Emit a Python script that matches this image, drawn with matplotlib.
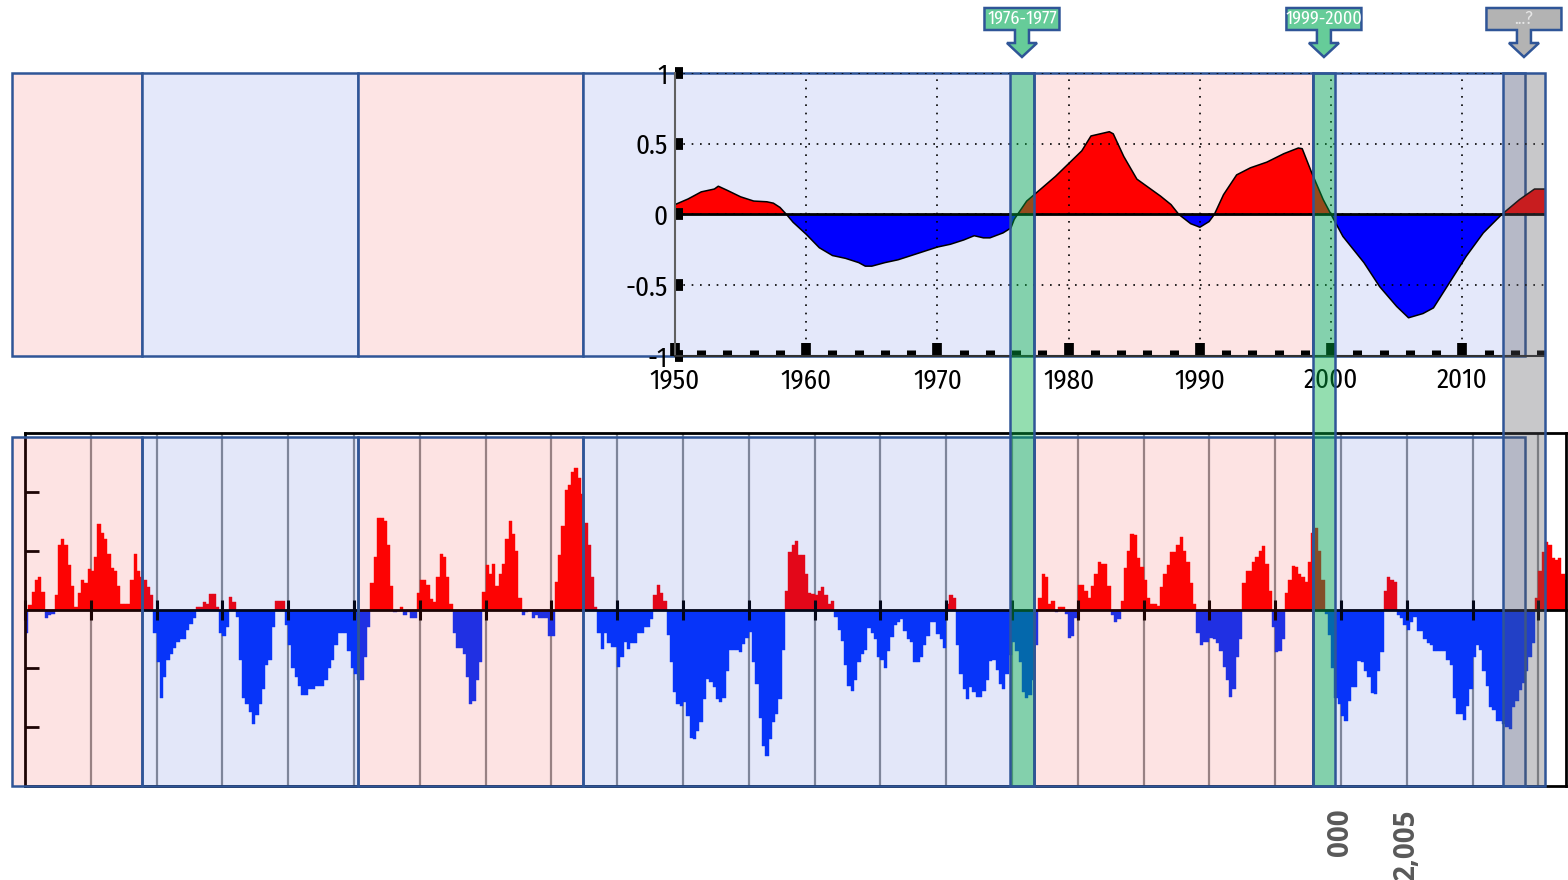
import numpy as np
import matplotlib.pyplot as plt
import matplotlib.transforms as mtransforms
from matplotlib.patches import Rectangle, Polygon

NARROW = ['Fira Sans Condensed', 'Sofia Sans Condensed', 'DejaVu Sans']
plt.rcParams['font.family'] = NARROW

# smoothed index, upper panel
smooth_years = [1950.0, 1951, 1952, 1953, 1953.3, 1954, 1955, 1956, 1957, 1957.5,
                1958, 1958.5, 1959, 1960, 1961, 1962, 1963, 1964, 1964.5, 1965,
                1966, 1967, 1968, 1969, 1970, 1971, 1972, 1972.8, 1973.5, 1974,
                1975, 1975.6, 1975.85, 1976.1, 1976.8, 1978, 1979, 1980, 1981, 1981.7,
                1983.1, 1983.4, 1984.2, 1985.2, 1986.25, 1987.0, 1987.8, 1988.4, 1989.3, 1990,
                1990.7, 1991.1, 1991.8, 1992.8, 1993.85, 1995.1, 1996.4, 1997.5, 1997.8, 1998.5,
                1999.4, 2000.2, 2000.9, 2002.5, 2003.7, 2005.0, 2005.9, 2007.0, 2007.8, 2009.0,
                2010.3, 2011.6, 2013.0, 2014.35, 2015.5, 2016.3]
smooth_values = [0.07, 0.11, 0.16, 0.18, 0.20, 0.17, 0.125, 0.095, 0.09, 0.08,
                 0.05, 0.0, -0.055, -0.14, -0.235, -0.29, -0.31, -0.34, -0.365, -0.365,
                 -0.34, -0.32, -0.29, -0.26, -0.23, -0.21, -0.18, -0.15, -0.165, -0.165,
                 -0.13, -0.095, -0.035, 0.0, 0.095, 0.19, 0.27, 0.36, 0.45, 0.555,
                 0.585, 0.57, 0.41, 0.25, 0.18, 0.13, 0.07, 0.0, -0.065, -0.09,
                 -0.05, 0.0, 0.14, 0.28, 0.33, 0.37, 0.43, 0.47, 0.465, 0.30,
                 0.105, -0.035, -0.155, -0.34, -0.51, -0.65, -0.73, -0.70, -0.66, -0.485,
                 -0.295, -0.13, 0.0, 0.105, 0.18, 0.18]

# quarterly index, lower panel: 4 values per year starting 1900
idx_1900s = [-0.4, 0.08, 0.3, 0.5, 0.55, 0.3, -0.15, -0.1, -0.08, 0.25, 1.1, 1.2,
             1.1, 0.75, 0.4, 0.05, 0.28, 0.5, 0.45, 0.68, 0.65, 0.9, 1.45, 1.3,
             1.2, 0.95, 0.7, 0.65, 0.4, 0.1, 0.1, 0.1, 0.5, 0.95, 0.65, 0.55,
             0.5, 0.38, 0.24, -0.4]
idx_1910s = [-0.9, -1.5, -1.15, -0.85, -0.75, -0.65, -0.55, -0.5, -0.5, -0.35, -0.25, -0.15,
             0.05, 0.05, 0.12, 0.1, 0.27, 0.27, 0.05, -0.4, -0.45, -0.3, 0.22, 0.12,
             -0.12, -0.85, -1.5, -1.6, -1.75, -1.95, -1.8, -1.6, -1.35, -0.95, -0.85, -0.3,
             0.14, 0.14, 0.14, -0.26]
idx_1920s = [-0.6, -1.0, -1.15, -1.3, -1.45, -1.45, -1.35, -1.35, -1.3, -1.3, -1.3, -1.2,
             -1.0, -0.85, -0.6, -0.4, -0.4, -0.4, -0.7, -1.0, -1.1, -1.2, -1.2, -0.8,
             -0.3, 0.45, 0.9, 1.55, 1.55, 1.5, 1.1, 0.4, -0.05, -0.03, 0.04, -0.1,
             -0.05, -0.15, -0.15, 0.28]
idx_1930s = [0.5, 0.5, 0.42, 0.17, 0.12, 0.55, 0.95, 0.9, 0.55, 0.1, -0.4, -0.65,
             -0.65, -0.75, -1.15, -1.6, -1.55, -1.2, -0.9, 0.3, 0.75, 0.6, 0.78, 0.4,
             0.6, 0.78, 1.2, 1.5, 1.28, 1.0, 0.2, -0.1, -0.05, 0.0, -0.15, -0.1,
             -0.15, -0.15, -0.15, -0.45]
idx_1940s = [-0.45, 0.47, 0.92, 1.42, 2.03, 2.11, 2.34, 2.41, 2.23, 1.97, 1.47, 1.1,
             0.56, 0.05, -0.4, -0.67, -0.4, -0.57, -0.63, -0.63, -0.97, -0.81, -0.55, -0.67,
             -0.57, -0.57, -0.4, -0.4, -0.3, -0.3, -0.16, 0.24, 0.42, 0.28, 0.14, -0.44,
             -0.9, -1.4, -1.6, -1.64]
idx_1950s = [-1.58, -1.81, -2.18, -2.2, -2.06, -1.92, -1.52, -1.18, -1.23, -1.32, -1.52, -1.58,
             -1.5, -1.04, -0.68, -0.68, -0.68, -0.72, -0.59, -0.49, -0.38, -0.9, -1.26, -1.85,
             -2.32, -2.49, -2.2, -1.91, -1.78, -1.52, -0.68, 0.32, 0.97, 1.1, 1.16, 0.92,
             0.92, 0.6, 0.28, 0.26]
idx_1960s = [0.24, 0.32, 0.38, 0.24, 0.1, 0.14, -0.13, -0.35, -0.54, -0.95, -1.3, -1.39,
             -1.2, -0.9, -0.75, -0.68, -0.32, -0.4, -0.5, -0.8, -0.85, -1.0, -0.7, -0.46,
             -0.27, -0.22, -0.16, -0.36, -0.5, -0.55, -0.9, -0.9, -0.8, -0.6, -0.45, -0.22,
             -0.22, -0.42, -0.5, -0.65]
idx_1970s = [0.1, 0.24, 0.2, -0.6, -1.1, -1.35, -1.52, -1.32, -1.4, -1.49, -1.49, -1.39,
             -1.2, -0.88, -0.85, -1.03, -1.26, -1.35, -1.1, -0.77, -0.55, -0.7, -0.9, -1.4,
             -1.5, -1.45, -1.2, -0.6, 0.2, 0.6, 0.55, 0.1, 0.14, -0.05, 0.05, 0.05,
             -0.07, -0.49, -0.45, -0.15]
idx_1980s = [0.42, 0.42, 0.32, 0.19, 0.4, 0.6, 0.8, 0.78, 0.78, 0.4, -0.1, -0.22,
             -0.16, 0.14, 0.7, 1.0, 1.29, 1.27, 0.88, 0.73, 0.5, 0.2, 0.1, 0.1,
             0.06, 0.38, 0.6, 0.75, 0.97, 0.97, 1.1, 1.24, 1.0, 0.8, 0.45, 0.1,
             -0.4, -0.6, -0.55, -0.55]
idx_1990s = [-0.49, -0.5, -0.57, -0.7, -0.98, -1.2, -1.48, -1.35, -0.8, -0.5, 0.45, 0.65,
             0.65, 0.8, 0.9, 1.0, 1.08, 0.78, 0.32, -0.3, -0.72, -0.7, -0.5, 0.28,
             0.5, 0.74, 0.72, 0.6, 0.55, 0.47, 0.8, 1.3, 1.38, 1.0, 0.5, -0.07,
             -0.43, -1.0, -1.5, -1.6]
idx_2000s = [-1.81, -1.9, -1.55, -1.31, -1.31, -0.88, -0.9, -1.04, -1.15, -1.42, -1.44, -1.04,
             -0.72, 0.32, 0.55, 0.5, 0.47, -0.1, -0.15, -0.26, -0.35, -0.22, -0.13, -0.36,
             -0.36, -0.5, -0.57, -0.61, -0.7, -0.7, -0.71, -0.71, -0.85, -0.95, -1.5, -1.77,
             -1.77, -1.87, -1.64, -1.35]
idx_2010s = [-0.81, -0.6, -0.69, -1.04, -1.3, -1.66, -1.7, -1.9, -1.9, -1.95, -1.99, -2.03,
             -1.66, -1.55, -1.37, -1.25, -1.04, -0.81, -0.57, 0.19, 0.65, 0.97, 1.15, 1.1,
             0.88, 0.84, 0.88, 0.6, 0.5]

# regime boxes, in years of the lower axis
regime_start = [1899.0, 1908.9, 1925.3, 1942.4, 1976.67, 1997.87]
regime_end = [1908.9, 1925.3, 1942.4, 1976.67, 1997.87, 2013.98]
regime_warm = [True, False, True, False, True, False]

# shift bands and their callouts
shift_start = [1974.85, 1997.87, 2012.31]
shift_end = [1976.67, 1999.54, 2015.5]
shift_labels = ["1976-1977", "1999-2000", "...?"]
shift_known = [True, True, False]

EDGE = '#2f5597'
RED = '#ff0000'

fig = plt.figure(figsize=(15.68, 8.8), dpi=100)

ax_top = fig.add_axes([675 / 1568, 1 - 356 / 880, 870 / 1568, 283 / 880], zorder=1)
ax_bot = fig.add_axes([25 / 1568, 1 - 786 / 880, 1541 / 1568, 353 / 880], zorder=1)
for ax in (ax_top, ax_bot):
    ax.patch.set_visible(False)

# ---- upper panel
sx = np.array(smooth_years)
sy = np.array(smooth_values)
ax_top.fill_between(sx, sy, 0, where=sy >= 0, interpolate=True, color=RED, lw=0)
ax_top.fill_between(sx, sy, 0, where=sy <= 0, interpolate=True, color='#0000ff', lw=0)
ax_top.plot(sx, sy, color='black', lw=1.1)
ax_top.axhline(0, color='black', lw=2)
ax_top.set_xlim(1950, 2016.3)
ax_top.set_ylim(-1, 1)
ax_top.set_xticks([1950, 1960, 1970, 1980, 1990, 2000, 2010])
ax_top.set_xticks(np.arange(1950, 2017, 2), minor=True)
ax_top.set_yticks([-1, -0.5, 0, 0.5, 1])
ax_top.set_yticklabels(['-1', '-0.5', '0', '0.5', '1'])
ax_top.grid(True, which='major', color='black', linestyle=(0, (1, 4)), lw=1.2)
ax_top.tick_params(axis='x', which='major', direction='in', length=9.5, width=7,
                   color='black', labelsize=19.5, pad=8)
ax_top.tick_params(axis='x', which='minor', direction='in', length=4.3, width=6.5,
                   color='black')
ax_top.tick_params(axis='y', which='major', direction='in', length=5.8, width=8.5,
                   color='black', labelsize=19.5, pad=5)
ax_top.spines['top'].set_visible(False)
ax_top.spines['right'].set_visible(False)
ax_top.spines['left'].set_color('#606060')
ax_top.spines['left'].set_linewidth(1.5)
ax_top.spines['bottom'].set_color('#303030')
ax_top.spines['bottom'].set_linewidth(1.5)

# ---- lower panel
vals = np.concatenate([idx_1900s, idx_1910s, idx_1920s, idx_1930s, idx_1940s, idx_1950s,
                       idx_1960s, idx_1970s, idx_1980s, idx_1990s, idx_2000s, idx_2010s])
t = 1900 + np.arange(len(vals)) * 0.25
cols = np.where(vals >= 0, RED, '#0433ff')
ax_bot.bar(t, vals, width=0.25, align='edge', color=cols, edgecolor=cols, lw=0.3, zorder=1)
ax_bot.set_xlim(1900, 2017.1)
ax_bot.set_ylim(-3, 3)
grid_years = np.arange(1905, 2016, 5)
ax_bot.vlines(grid_years, -3, 3, color='#8c8f92', lw=1.6, zorder=0.5)
ax_bot.axhline(-3, color='black', lw=2, clip_on=False)
ax_bot.set_xticks(np.arange(1900, 2016, 5))
ax_bot.set_yticks([-2, -1, 1, 2])
ax_bot.tick_params(axis='x', direction='inout', length=15, width=2.2, color='black',
                   labelbottom=False)
ax_bot.tick_params(axis='y', direction='in', length=10, width=2, color='black',
                   labelleft=False)
ax_bot.spines['bottom'].set_position(('data', 0))
for side in ('left', 'right', 'top', 'bottom'):
    ax_bot.spines[side].set_color('black')
    ax_bot.spines[side].set_linewidth(2)

blend = mtransforms.blended_transform_factory(ax_bot.transData, fig.transFigure)

lbl_font = dict(rotation=90, ha='center', va='top', color='#595959', fontsize=20,
                fontweight='bold', family=['Open Sans', 'DejaVu Sans'])
ax_bot.text(2000, 1 - 808 / 880, '000', transform=blend, **lbl_font)
ax_bot.text(2005, 1 - 808 / 880, '2,005', transform=blend, **lbl_font)

# ---- regime boxes
top_y0, top_h = 1 - 356 / 880, 283 / 880
bot_y0, bot_h = 1 - 786 / 880, 349 / 880
for s, e, warm in zip(regime_start, regime_end, regime_warm):
    under = '#fde4e4' if warm else '#e4e8fa'
    over = (240 / 255, 30 / 255, 30 / 255, 0.12) if warm else (30 / 255, 63 / 255, 213 / 255, 0.12)
    fig.add_artist(Rectangle((s, top_y0), e - s, top_h, transform=blend, facecolor=under,
                             edgecolor=EDGE, lw=1.8, zorder=0))
    fig.add_artist(Rectangle((s, bot_y0), e - s, bot_h, transform=blend, facecolor=over,
                             edgecolor=EDGE, lw=1.8, zorder=2))

# ---- shift bands and callouts
band_y0, band_h = 1 - 786 / 880, (786 - 73) / 880
for s, e, lab, known in zip(shift_start, shift_end, shift_labels, shift_known):
    face = (0, 178 / 255, 67 / 255, 0.42) if known else (90 / 255, 90 / 255, 95 / 255, 0.33)
    fig.add_artist(Rectangle((s, band_y0), e - s, band_h, transform=blend, facecolor=face,
                             edgecolor=EDGE, lw=1.8, zorder=3))

    cx = blend.transform(((s + e) / 2, 0))[0]
    hw, sw, aw = 37.5, 7, 15
    top, bot, neck, tip = 872, 850, 837, 823
    verts = [(cx - hw, top), (cx + hw, top), (cx + hw, bot), (cx + sw, bot), (cx + sw, neck),
             (cx + aw, neck), (cx, tip), (cx - aw, neck), (cx - sw, neck), (cx - sw, bot),
             (cx - hw, bot)]
    fig.add_artist(Polygon(verts, closed=True, transform=mtransforms.IdentityTransform(),
                           facecolor='#66cc99' if known else '#b3b3b3', edgecolor=EDGE,
                           lw=1.8, zorder=4))
    fig.text(cx, (top + bot) / 2, lab, transform=mtransforms.IdentityTransform(),
             ha='center', va='center', fontsize=13,
             color='white' if known else '#e6e6e6', zorder=5)

fig.savefig('out.png', dpi=100)
